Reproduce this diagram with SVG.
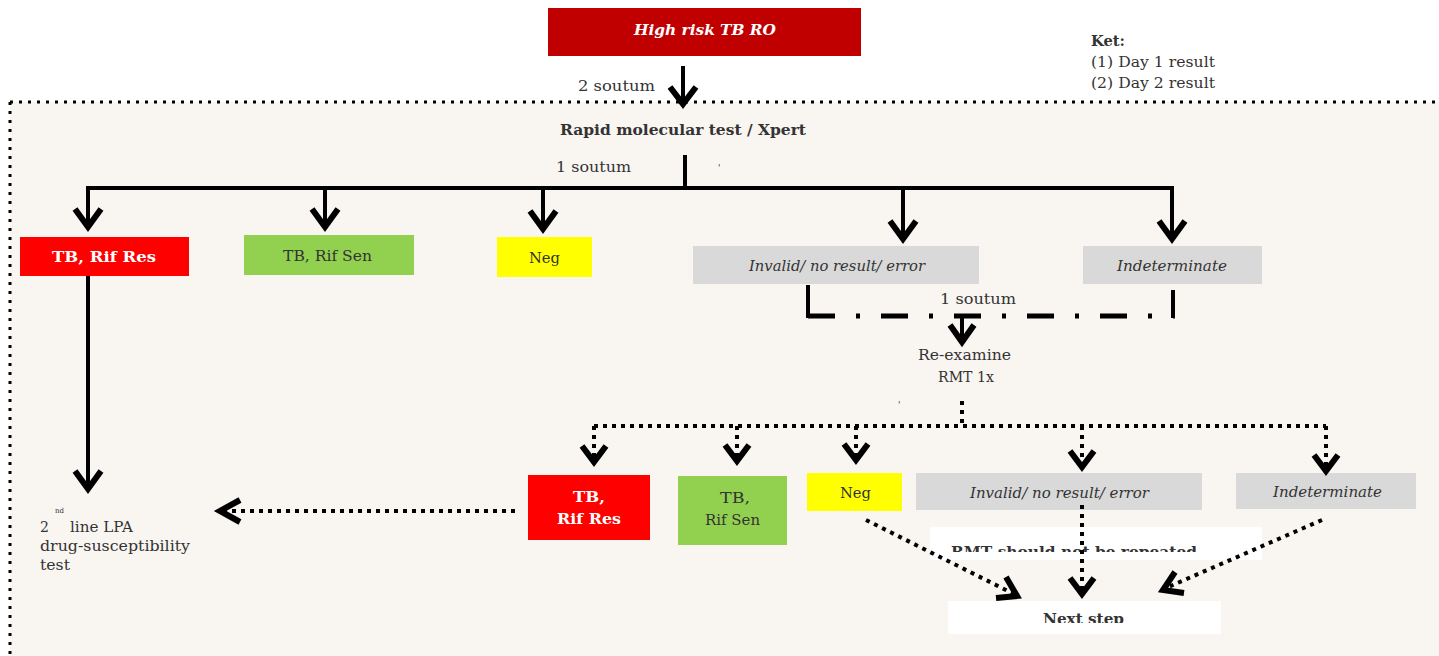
<svg xmlns="http://www.w3.org/2000/svg" width="1439" height="656" viewBox="0 0 1439 656">
  <style>
    .t { font-family: "DejaVu Serif", "Liberation Serif", serif; font-size: 14px; fill: #333; }
    .tiny { font-size: 7px; }
    .tick { font-size: 9px; }
    .b { font-weight: bold; }
    .i { font-style: italic; }
    .w { fill: #fff; }
    .solid { fill: none; stroke: #000; stroke-width: 4; }
    .head { fill: none; stroke: #000; stroke-width: 6; stroke-linejoin: miter; }
    .dot { fill: none; stroke: #000; stroke-width: 4; stroke-dasharray: 4 5; }
    .dashdot { fill: none; stroke: #000; stroke-width: 5; stroke-dasharray: 27 21 4 21; }
    .frame { fill: none; stroke: #000; stroke-width: 3; stroke-dasharray: 3 6; }
  </style>
  <defs>
    <clipPath id="clipRmt"><rect x="930" y="527" width="332" height="25"/></clipPath>
    <clipPath id="clipNext"><rect x="948" y="601" width="273" height="22"/></clipPath>
  </defs>

  <rect width="1439" height="656" fill="#fff"/>
  <!-- shaded working area -->
  <rect x="10" y="102" width="1429" height="554" fill="#f9f5f1"/>
  <line class="frame" x1="10" y1="102" x2="1439" y2="102"/>
  <line class="frame" x1="10" y1="102" x2="10" y2="656"/>

  <!-- key -->
  <g id="key">
    <text class="t b" x="1091" y="46" fill="#222" textLength="34" lengthAdjust="spacingAndGlyphs">Ket:</text>
    <text class="t" x="1091" y="67" textLength="124" lengthAdjust="spacingAndGlyphs">(1) Day 1 result</text>
    <text class="t" x="1091" y="88" textLength="124" lengthAdjust="spacingAndGlyphs">(2) Day 2 result</text>
  </g>

  <!-- labels on connectors -->
  <g id="labels">
    <text class="t" x="578" y="91" textLength="77" lengthAdjust="spacingAndGlyphs">2 soutum</text>
    <text class="t" x="556" y="172" textLength="75" lengthAdjust="spacingAndGlyphs">1 soutum</text>
    <text class="t tick" x="718" y="171">'</text>
    <text class="t" x="940" y="304" textLength="76" lengthAdjust="spacingAndGlyphs">1 soutum</text>
    <text class="t tick" x="898" y="408">'</text>
  </g>

  <!-- nodes -->
  <g id="n-start">
    <rect x="548" y="8" width="313" height="48" fill="#c00000"/>
    <text class="t b i w" x="634" y="35" textLength="142" lengthAdjust="spacingAndGlyphs">High risk TB RO</text>
  </g>
  <g id="n-rmt">
    <text class="t b" x="560" y="135" fill="#222" textLength="246" lengthAdjust="spacingAndGlyphs">Rapid molecular test / Xpert</text>
  </g>
  <g id="n-res1">
    <rect x="20" y="237" width="169" height="39" fill="#ff0000"/>
    <text class="t b w" x="52" y="262" textLength="104" lengthAdjust="spacingAndGlyphs">TB, Rif  Res</text>
  </g>
  <g id="n-sen1">
    <rect x="244" y="235" width="170" height="40" fill="#92d050"/>
    <text class="t" x="283" y="261" fill="#222" textLength="89" lengthAdjust="spacingAndGlyphs">TB, Rif Sen</text>
  </g>
  <g id="n-neg1">
    <rect x="497" y="237" width="95" height="40" fill="#ffff00"/>
    <text class="t" x="529" y="263" fill="#222" textLength="31" lengthAdjust="spacingAndGlyphs">Neg</text>
  </g>
  <g id="n-inv1">
    <rect x="693" y="246" width="286" height="38" fill="#d9d9d9"/>
    <text class="t i" x="749" y="271" fill="#444" textLength="176" lengthAdjust="spacingAndGlyphs">Invalid/ no result/ error</text>
  </g>
  <g id="n-ind1">
    <rect x="1083" y="246" width="179" height="38" fill="#d9d9d9"/>
    <text class="t i" x="1117" y="271" fill="#444" textLength="110" lengthAdjust="spacingAndGlyphs">Indeterminate</text>
  </g>
  <g id="n-reexam">
    <text class="t" x="918" y="360" textLength="93" lengthAdjust="spacingAndGlyphs">Re-examine</text>
    <text class="t" x="938" y="382" textLength="56" lengthAdjust="spacingAndGlyphs">RMT 1x</text>
  </g>
  <g id="n-res2">
    <rect x="528" y="475" width="122" height="65" fill="#ff0000"/>
    <text class="t b w" x="573" y="502" textLength="32" lengthAdjust="spacingAndGlyphs">TB,</text>
    <text class="t b w" x="557" y="524" textLength="64" lengthAdjust="spacingAndGlyphs">Rif  Res</text>
  </g>
  <g id="n-sen2">
    <rect x="678" y="476" width="109" height="69" fill="#92d050"/>
    <text class="t" x="720" y="503" fill="#222" textLength="30" lengthAdjust="spacingAndGlyphs">TB,</text>
    <text class="t" x="705" y="525" fill="#222" textLength="55" lengthAdjust="spacingAndGlyphs">Rif Sen</text>
  </g>
  <g id="n-neg2">
    <rect x="807" y="473" width="95" height="38" fill="#ffff00"/>
    <text class="t" x="840" y="498" fill="#222" textLength="31" lengthAdjust="spacingAndGlyphs">Neg</text>
  </g>
  <g id="n-inv2">
    <rect x="916" y="473" width="286" height="37" fill="#d9d9d9"/>
    <text class="t i" x="970" y="498" fill="#444" textLength="179" lengthAdjust="spacingAndGlyphs">Invalid/ no result/ error</text>
  </g>
  <g id="n-ind2">
    <rect x="1236" y="473" width="180" height="36" fill="#d9d9d9"/>
    <text class="t i" x="1273" y="497" fill="#444" textLength="109" lengthAdjust="spacingAndGlyphs">Indeterminate</text>
  </g>
  <g id="n-note">
    <rect x="930" y="527" width="332" height="33" fill="#fff"/>
    <text class="t b" x="951" y="557" clip-path="url(#clipRmt)" fill="#111" textLength="246" lengthAdjust="spacingAndGlyphs">RMT  should not be repeated</text>
  </g>
  <g id="n-next">
    <rect x="948" y="601" width="273" height="33" fill="#fff"/>
    <text class="t b" x="1043" y="624" clip-path="url(#clipNext)" fill="#111" textLength="81" lengthAdjust="spacingAndGlyphs">Next step</text>
  </g>
  <g id="n-lpa">
    <text class="t" x="40" y="532">2</text>
    <text class="t tiny" x="55" y="513">nd</text>
    <text class="t" x="70" y="532" textLength="63" lengthAdjust="spacingAndGlyphs">line LPA</text>
    <text class="t" x="40" y="551" textLength="150" lengthAdjust="spacingAndGlyphs">drug-susceptibility</text>
    <text class="t" x="40" y="570" textLength="30" lengthAdjust="spacingAndGlyphs">test</text>
  </g>

  <!-- connectors -->
  <g id="connectors">
    <!-- start to rapid test -->
    <line class="solid" x1="683" y1="66" x2="683" y2="102" stroke-width="5"/>
    <polyline class="head" points="670,87 683,104 696,87"/>

    <!-- day-1 distribution bar -->
    <line class="solid" x1="685" y1="155" x2="685" y2="188"/>
    <line class="solid" x1="86" y1="188" x2="1174" y2="188"/>
    <line class="solid" x1="88" y1="188" x2="88" y2="225"/>
    <polyline class="head" points="75,209 88,227 101,209"/>
    <line class="solid" x1="325" y1="188" x2="325" y2="225"/>
    <polyline class="head" points="312,209 325,227 338,209"/>
    <line class="solid" x1="543" y1="188" x2="543" y2="227"/>
    <polyline class="head" points="530,211 543,229 556,211"/>
    <line class="solid" x1="903" y1="188" x2="903" y2="237"/>
    <polyline class="head" points="890,221 903,239 916,221"/>
    <line class="solid" x1="1172" y1="188" x2="1172" y2="237"/>
    <polyline class="head" points="1159,221 1172,239 1185,221"/>

    <!-- resistant to second-line test -->
    <line class="solid" x1="88" y1="276" x2="88" y2="487"/>
    <polyline class="head" points="75,471 88,489 101,471"/>

    <!-- retest path -->
    <line class="solid" x1="808" y1="285" x2="808" y2="318" stroke-width="5"/>
    <line class="solid" x1="1173" y1="290" x2="1173" y2="318" stroke-width="5"/>
    <line class="dashdot" x1="808" y1="316" x2="1175" y2="316"/>
    <line class="solid" x1="962" y1="316" x2="962" y2="340"/>
    <polyline class="head" points="950,325 962,342 974,325"/>

    <!-- day-2 distribution bar -->
    <line class="dot" x1="962" y1="401" x2="962" y2="426"/>
    <line class="dot" x1="594" y1="426" x2="1326" y2="426"/>
    <line class="dot" x1="594" y1="426" x2="594" y2="460"/>
    <polyline class="head" points="582,446 594,462 606,446"/>
    <line class="dot" x1="737" y1="426" x2="737" y2="459"/>
    <polyline class="head" points="725,445 737,461 749,445"/>
    <line class="dot" x1="856" y1="426" x2="856" y2="458"/>
    <polyline class="head" points="844,444 856,460 868,444"/>
    <line class="dot" x1="1082" y1="426" x2="1082" y2="465"/>
    <polyline class="head" points="1070,451 1082,467 1094,451"/>
    <line class="dot" x1="1326" y1="426" x2="1326" y2="469"/>
    <polyline class="head" points="1314,455 1326,471 1338,455"/>

    <!-- resistant to second-line test (day 2) -->
    <line class="dot" x1="515" y1="511" x2="222" y2="511"/>
    <polyline class="head" points="240,500 220,511 240,522"/>

    <!-- to next step -->
    <line class="dot" x1="866" y1="520" x2="1014" y2="594"/>
    <polyline class="head" points="996,598 1017,596 1006,577"/>
    <line class="dot" x1="1082" y1="505" x2="1082" y2="592"/>
    <polyline class="head" points="1070,578 1082,594 1094,578"/>
    <line class="dot" x1="1322" y1="520" x2="1166" y2="588"/>
    <polyline class="head" points="1184,593 1163,590 1175,572"/>
  </g>
</svg>
